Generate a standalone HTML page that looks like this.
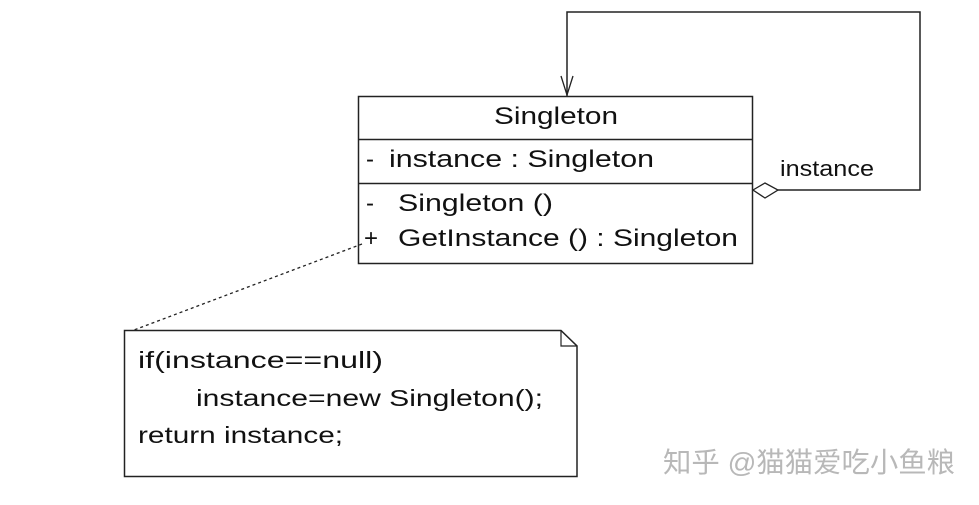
<!DOCTYPE html>
<html><head><meta charset="utf-8"><style>
body{margin:0;background:#fff;width:979px;height:500px;overflow:hidden}
text{font-family:"Liberation Sans",Arial,sans-serif;fill:#111}
</style></head><body>
<svg width="979" height="500" xmlns="http://www.w3.org/2000/svg">
<rect x="358.5" y="96.5" width="394" height="167" fill="#fff" stroke="#222" stroke-width="1.5"/>
<line x1="358" y1="139.5" x2="752" y2="139.5" stroke="#222" stroke-width="1.5"/>
<line x1="358" y1="183.5" x2="752" y2="183.5" stroke="#222" stroke-width="1.5"/>
<text x="494" y="124" font-size="24" textLength="124" lengthAdjust="spacingAndGlyphs">Singleton</text>
<text x="366" y="167" font-size="24">-</text>
<text x="389" y="167" font-size="24" textLength="265" lengthAdjust="spacingAndGlyphs">instance  : Singleton</text>
<text x="366" y="211" font-size="24">-</text>
<text x="398" y="211" font-size="24" textLength="155" lengthAdjust="spacingAndGlyphs">Singleton ()</text>
<text x="364" y="246" font-size="24">+</text>
<text x="398" y="246" font-size="24" textLength="340" lengthAdjust="spacingAndGlyphs">GetInstance () : Singleton</text>
<polyline points="778,190 920,190 920,12 567,12 567,96" fill="none" stroke="#222" stroke-width="1.5"/>
<polyline points="561,76 567,95 573,76" fill="none" stroke="#222" stroke-width="1.3"/>
<polygon points="753,190 765,183 778,190 765,198" fill="#fff" stroke="#222" stroke-width="1.3"/>
<text x="780" y="176" font-size="22" textLength="94" lengthAdjust="spacingAndGlyphs">instance</text>
<line x1="362" y1="244" x2="134" y2="330" stroke="#222" stroke-width="1.3" stroke-dasharray="3,3"/>
<polygon points="124.5,330.5 561,330.5 577,346 577,476.5 124.5,476.5" fill="#fff" stroke="#222" stroke-width="1.5"/>
<polyline points="561,330.5 561,346 577,346" fill="none" stroke="#222" stroke-width="1.2"/>
<text x="138" y="368" font-size="23" textLength="245" lengthAdjust="spacingAndGlyphs">if(instance==null)</text>
<text x="196" y="406" font-size="23" textLength="347" lengthAdjust="spacingAndGlyphs">instance=new Singleton();</text>
<text x="138" y="443" font-size="23" textLength="205" lengthAdjust="spacingAndGlyphs">return instance;</text>
<text x="663" y="472" font-size="28" textLength="292" lengthAdjust="spacingAndGlyphs" style='font-family:"Liberation Sans","Noto Sans CJK SC",sans-serif;fill:#b8b8b8'>知乎 @猫猫爱吃小鱼粮</text>
</svg>
</body></html>
